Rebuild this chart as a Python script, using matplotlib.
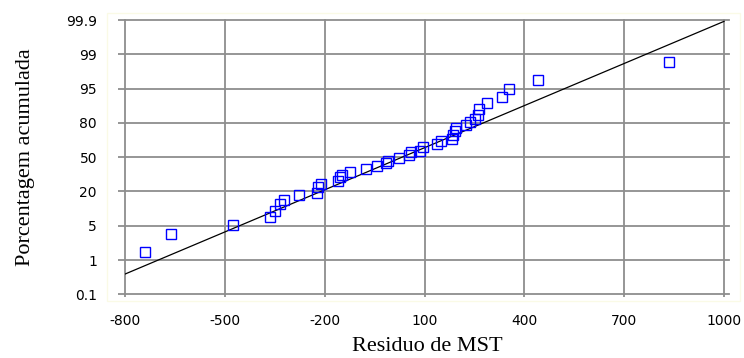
import matplotlib

matplotlib.use("Agg")
import matplotlib.pyplot as plt
from matplotlib.patches import Rectangle

plt.rcParams["axes.unicode_minus"] = False

# residuals (x) and position on the probability axis (0 = 0.1 % ... 8 = 99.9 %)
residuo = [-740, -662, -474, -363, -350, -335, -323, -277, -222, -221,
           -212, -161, -155, -149, -125, -77, -42, -17, -10, 23,
           52, 58, 87, 95, 137, 150, 183, 187, 192, 194,
           226, 236, 253, 260, 265, 287, 332, 354, 441, 835]
posicao = [1.22, 1.77, 2.03, 2.24, 2.43, 2.62, 2.76, 2.89, 2.96, 3.12,
           3.22, 3.29, 3.41, 3.48, 3.57, 3.66, 3.75, 3.84, 3.90, 3.97,
           4.06, 4.15, 4.18, 4.30, 4.37, 4.46, 4.53, 4.65, 4.75, 4.86,
           4.95, 5.02, 5.11, 5.24, 5.40, 5.57, 5.75, 5.98, 6.24, 6.77]

# fitted reference line
reta_x = [-800, 1000]
reta_y = [0.59, 7.96]

x_ticks = [-800, -500, -200, 100, 400, 700, 1000]
y_labels = ["0.1", "1", "5", "20", "50", "80", "95", "99", "99.9"]

W, H = 744, 358
fig = plt.figure(figsize=(W / 100, H / 100), dpi=100)
fig.patches.append(Rectangle((107 / W, 1 - 301 / H), (740 - 107) / W, (301 - 13) / H,
                             transform=fig.transFigure, fill=False,
                             edgecolor="#fafae6", lw=1.0))
ax = fig.add_axes([125 / W, 1 - 294.3 / H, (729 - 125) / W, (294.3 - 20) / H])

grid_color = "#8e8e8e"
ax.set_xlim(-800, 1015)
ax.set_ylim(0, 8)
ax.set_xticks(x_ticks)
ax.set_yticks(range(len(y_labels)))
ax.set_yticklabels(y_labels)
for s in ax.spines.values():
    s.set_visible(False)
ax.grid(True, color=grid_color, lw=1.3)
for g in ax.get_xgridlines() + ax.get_ygridlines():
    g.set_clip_on(False)
ax.set_axisbelow(True)
ax.tick_params(axis="y", length=5.2, width=1.3, color=grid_color, pad=15,
               labelsize=10)
ax.tick_params(axis="x", length=2.5, width=1.3, color=grid_color, pad=12,
               labelsize=10)

ax.plot(reta_x, reta_y, color="black", lw=0.9, zorder=3)
ax.plot(residuo, posicao, ls="none", marker="s", markersize=7.3,
        markerfacecolor="none", markeredgecolor="#0000ff", mew=1.0, zorder=4)

ax.set_xlabel("Residuo de MST", family="Liberation Serif", fontsize=16,
              labelpad=6.5)
ax.set_ylabel("Porcentagem acumulada", family="Liberation Serif", fontsize=16,
              labelpad=22)

fig.savefig("out.png", dpi=100)
